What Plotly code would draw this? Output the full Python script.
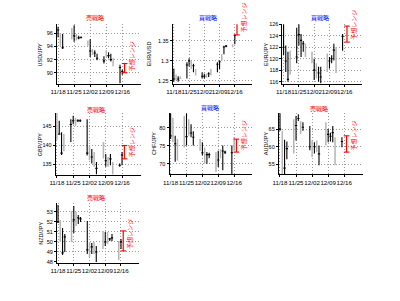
import plotly.graph_objects as go
import pandas as pd

W, H = 400, 301

# ---------------- data ----------------
dates = ["2008-11-18", "2008-11-19", "2008-11-20", "2008-11-21",
         "2008-11-24", "2008-11-25", "2008-11-26", "2008-11-27", "2008-11-28",
         "2008-12-01", "2008-12-02", "2008-12-03", "2008-12-04", "2008-12-05",
         "2008-12-08", "2008-12-09", "2008-12-10", "2008-12-11", "2008-12-12",
         "2008-12-15", "2008-12-16"]
forecast_date = "2008-12-17"
forecast_label_date = "2008-12-20 00:00"
tick_dates = ["2008-11-18", "2008-11-25", "2008-12-02", "2008-12-09", "2008-12-16"]
tick_labels = ["11/18", "11/25", "12/02", "12/09", "12/16"]
forecast_text = "予想レンジ"

usdjpy_high = [97.0, 96.0, 95.9, None, 96.8, 97.2, 95.9, 95.6, 95.5, 94.9, 95.1, 93.6, 93.4, 92.9, 92.5, 93.4, 93.1, 92.9, 92.2, 91.2, 90.5]
usdjpy_low = [95.4, 94.1, 93.6, None, 95.1, 94.7, 94.9, 95.1, 95.2, 94.1, 92.4, 92.7, 92.4, 91.9, 91.4, 92.4, 92.2, 91.7, 91.0, 88.4, 89.7]
usdjpy_close = [96.5, 95.0, 93.8, None, 96.4, 95.6, 95.3, 95.3, 95.4, 94.5, 93.3, 93.0, 93.0, 92.2, 91.8, 92.8, 92.6, 92.0, 91.3, 90.8, 90.2]
usdjpy_shade = ["k", "g", "k", "g", "g", "k", "g", "k", "k", "g", "k", "g", "k", "k", "k", "g", "k", "k", "g", "k", "k"]
usdjpy_range = [90.0, 91.4]
usdjpy_ticks = [90, 92, 94, 96]

eurusd_high = [1.281, 1.266, 1.262, 1.262, 1.297, 1.307, 1.301, 1.293, 1.280, 1.272, 1.268, 1.268, 1.272, 1.280, 1.297, 1.301, 1.317, 1.338, 1.340, 1.342, 1.366]
eurusd_low = [1.248, 1.252, 1.248, 1.255, 1.256, 1.286, 1.280, 1.272, 1.264, 1.256, 1.256, 1.258, 1.260, 1.264, 1.272, 1.280, 1.301, 1.317, 1.334, 1.334, 1.342]
eurusd_close = [1.255, 1.260, 1.255, 1.258, 1.290, 1.300, 1.295, 1.288, 1.270, 1.262, 1.262, 1.265, 1.268, 1.276, 1.292, 1.298, 1.312, 1.335, 1.337, 1.338, 1.364]
eurusd_shade = ["k", "g", "k", "g", "k", "k", "g", "k", "g", "k", "k", "g", "k", "g", "k", "k", "g", "k", "k", "g", "k"]
eurusd_range = [1.365, 1.395]
eurusd_ticks = [1.25, 1.3, 1.35]

eurjpy_high = [126.0, 122.3, 121.2, 121.4, 125.4, 126.0, 124.3, 123.1, 122.6, 121.2, 120.0, 119.2, 118.6, 118.6, 120.9, 120.3, 120.6, 122.6, 122.0, 124.3, None]
eurjpy_low = [120.6, 117.7, 116.0, 117.2, 119.2, 122.3, 120.3, 121.2, 120.3, 119.2, 116.3, 116.6, 116.0, 115.7, 117.7, 118.3, 119.2, 119.7, 117.5, 121.4, None]
eurjpy_close = [122.0, 119.6, 116.4, 119.0, 120.3, 124.2, 123.2, 122.6, 121.0, 120.5, 118.0, 117.7, 117.5, 116.8, 119.5, 119.6, 120.0, 121.5, 121.9, 123.9, None]
eurjpy_shade = ["k", "k", "k", "g", "k", "k", "k", "k", "g", "g", "k", "g", "k", "k", "g", "k", "k", "k", "g", "k", "k"]
eurjpy_range = [122.9, 125.7]
eurjpy_ticks = [116, 118, 120, 122, 124, 126]

gbpjpy_high = [148.5, 146.5, 143.5, 143.0, 146.9, 147.8, 147.3, 146.9, 146.9, 146.9, 139.8, 139.1, 138.3, 135.7, 140.9, 137.8, 137.0, 137.8, 135.7, 135.3, 138.3]
gbpjpy_low = [141.5, 142.8, 137.5, 138.5, 140.9, 145.6, 145.2, 146.2, 146.2, 137.4, 136.1, 135.3, 134.4, 132.4, 136.6, 134.4, 134.4, 134.8, 132.4, 134.4, 134.8]
gbpjpy_close = [143.5, 143.0, 138.0, 141.5, 145.5, 146.5, 146.0, 146.5, 146.5, 138.0, 138.0, 137.0, 135.5, 134.0, 138.5, 136.0, 135.5, 136.5, 134.5, 134.8, 137.5]
gbpjpy_shade = ["g", "k", "k", "g", "k", "k", "g", "k", "k", "k", "g", "k", "g", "k", "g", "k", "g", "k", "g", "k", "k"]
gbpjpy_range = [136.5, 140.0]
gbpjpy_ticks = [135, 140, 145]

chfjpy_high = [84.0, 82.7, 77.7, 76.8, 83.2, 84.0, 82.3, 80.9, 79.0, 76.8, 75.9, 74.5, 73.2, 73.0, 73.2, 73.6, 74.0, 75.0, 73.6, 75.0, 77.3]
chfjpy_low = [76.8, 75.9, 70.5, 70.9, 74.5, 75.0, 77.7, 77.3, 75.0, 73.6, 72.3, 70.0, 70.0, 71.5, 67.7, 69.1, 71.5, 68.2, 72.7, 67.1, 73.6]
chfjpy_close = [77.7, 78.0, 75.5, 76.0, 81.0, 77.5, 80.0, 78.5, 77.3, 75.0, 73.0, 73.0, 72.5, 72.5, 72.0, 71.0, 72.8, 73.5, 73.2, 73.0, 75.0]
chfjpy_shade = ["k", "g", "k", "g", "g", "k", "g", "k", "k", "g", "k", "g", "k", "k", "g", "k", "g", "k", "k", "k", "g"]
chfjpy_range = [73.2, 76.8]
chfjpy_ticks = [70, 75, 80]

audjpy_high = [69.6, 64.5, 62.0, 61.5, 67.8, 68.7, 69.2, 67.3, 66.9, 65.9, 61.8, 61.3, 61.8, 60.4, 66.9, 65.0, 64.0, 65.9, 62.7, 62.7, None]
audjpy_low = [64.5, 52.3, 52.3, 56.5, 58.1, 61.8, 67.3, 63.6, 64.5, 59.0, 57.1, 58.1, 58.5, 54.8, 60.4, 61.3, 61.5, 61.3, 54.8, 59.9, None]
audjpy_close = [65.0, 60.0, 54.0, 59.5, 63.0, 66.0, 68.0, 65.0, 65.5, 60.0, 59.0, 60.0, 60.5, 58.0, 64.0, 63.5, 63.0, 64.0, 61.0, 61.5, None]
audjpy_shade = ["k", "g", "k", "k", "g", "k", "k", "g", "k", "k", "g", "k", "g", "k", "g", "k", "k", "k", "g", "k", "k"]
audjpy_range = [58.5, 63.1]
audjpy_ticks = [55, 60, 65]

nzdjpy_high = [53.7, 52.2, 51.4, 50.8, 53.1, 53.6, 53.0, 52.7, 52.5, 52.1, 50.0, 49.9, 50.0, 49.6, 51.1, 51.0, 51.0, 50.4, 50.8, 50.1, 50.3]
nzdjpy_low = [51.9, 50.0, 48.7, 49.0, 50.0, 50.9, 51.6, 51.8, 52.0, 48.8, 48.5, 48.8, 48.8, 48.0, 49.3, 49.6, 49.8, 50.1, 50.1, 48.2, 49.3]
nzdjpy_close = [52.0, 51.8, 48.9, 50.5, 52.5, 52.2, 52.5, 52.4, 52.3, 49.2, 49.5, 49.5, 49.3, 49.0, 50.5, 50.0, 50.5, 50.3, 50.4, 49.5, 50.0]
nzdjpy_shade = ["k", "g", "k", "k", "g", "k", "g", "k", "k", "k", "g", "k", "g", "k", "g", "k", "g", "k", "k", "g", "k"]
nzdjpy_range = [49.1, 51.1]
nzdjpy_ticks = [48, 49, 50, 51, 52, 53]

pairs = ["USD/JPY", "EUR/USD", "EUR/JPY", "GBP/JPY", "CHF/JPY", "AUD/JPY", "NZD/JPY"]
strategies = ["売戦略", "買戦略", "買戦略", "売戦略", "買戦略", "売戦略", "売戦略"]

series = [
    (usdjpy_high, usdjpy_low, usdjpy_close, usdjpy_shade, usdjpy_range, usdjpy_ticks),
    (eurusd_high, eurusd_low, eurusd_close, eurusd_shade, eurusd_range, eurusd_ticks),
    (eurjpy_high, eurjpy_low, eurjpy_close, eurjpy_shade, eurjpy_range, eurjpy_ticks),
    (gbpjpy_high, gbpjpy_low, gbpjpy_close, gbpjpy_shade, gbpjpy_range, gbpjpy_ticks),
    (chfjpy_high, chfjpy_low, chfjpy_close, chfjpy_shade, chfjpy_range, chfjpy_ticks),
    (audjpy_high, audjpy_low, audjpy_close, audjpy_shade, audjpy_range, audjpy_ticks),
    (nzdjpy_high, nzdjpy_low, nzdjpy_close, nzdjpy_shade, nzdjpy_range, nzdjpy_ticks),
]

# ---------------- layout (pixels) ----------------
boxes = [
    (51.7, 136.7, 21.7, 82.0),
    (169.3, 250.0, 21.7, 82.0),
    (280.7, 361.7, 21.7, 82.0),
    (50.5, 136.7, 112.0, 174.5),
    (166.0, 250.0, 112.0, 174.0),
    (277.0, 362.0, 112.0, 174.0),
    (51.7, 135.0, 203.3, 264.0),
]
y_ranges = [
    (88.35, 97.35), (1.2434, 1.3915), (115.65, 126.0),
    (132.36, 148.5), (67.1, 84.0), (52.3, 69.5), (47.93, 53.9),
]
title_xy = [(90.6, 15.0), (205.0, 15.0), (319.0, 15.0),
            (91.7, 108.0), (206.7, 106.7), (317.5, 107.7), (91.7, 197.3)]
ylabel_x = [35.0, 145.5, 264.0, 34.0, 149.5, 263.5, 35.5]
x_range = ["2008-11-17 12:00", "2008-12-24 00:00"]

strat_color = {"売戦略": "#ff0000", "買戦略": "#0000ff"}
shade_color = {"k": "#000000", "g": "#b4b4b4"}
shade_width = {"k": 1.1, "g": 1.5}

FONT = "Liberation Sans, Arial, sans-serif"
JFONT = "Noto Sans CJK JP"
GRID = "#9a9a9a"

fig = go.Figure()
annotations = []
layout_axes = {}

for i, (pair, strat, (hi, lo, cl, sh, frng, yt)) in enumerate(zip(pairs, strategies, series)):
    k = i + 1
    xa = "x" if k == 1 else f"x{k}"
    ya = "y" if k == 1 else f"y{k}"
    xkey = "xaxis" if k == 1 else f"xaxis{k}"
    ykey = "yaxis" if k == 1 else f"yaxis{k}"

    df = pd.DataFrame({"date": pd.to_datetime(dates), "high": hi, "low": lo,
                       "close": cl, "shade": sh}).dropna()
    for s in ["g", "k"]:
        d = df[df["shade"] == s]
        if d.empty:
            continue
        gaps = d["date"].diff().dt.days.dropna()
        mingap = gaps.min() if len(gaps) else 1
        tw = min(0.5, 0.5 / mingap)
        fig.add_trace(go.Ohlc(
            x=d["date"], open=d["close"], high=d["high"], low=d["low"], close=d["close"],
            increasing=dict(line=dict(color=shade_color[s], width=shade_width[s])),
            decreasing=dict(line=dict(color=shade_color[s], width=shade_width[s])),
            tickwidth=tw, xaxis=xa, yaxis=ya, showlegend=False, hoverinfo="skip",
        ))

    fig.add_trace(go.Scatter(
        x=[forecast_date, forecast_date], y=frng, mode="lines+markers",
        line=dict(color="#ff0000", width=1.2),
        marker=dict(symbol="line-ew", size=4, line=dict(color="#ff0000", width=1.1)),
        xaxis=xa, yaxis=ya, showlegend=False, hoverinfo="skip", cliponaxis=False,
    ))

    L, R, T, B = boxes[i]
    layout_axes[xkey] = dict(
        domain=[L / W, R / W], anchor=ya, type="date", range=x_range,
        tickmode="array", tickvals=tick_dates, ticktext=tick_labels, tickangle=0,
        showgrid=True, gridcolor=GRID, griddash="1px,2px", gridwidth=1,
        showline=True, linecolor="#000000", linewidth=1,
        ticks="outside", ticklen=2, tickcolor="#000000",
        tickfont=dict(size=6.2, color="#000000", family=FONT),
        rangeslider=dict(visible=False), zeroline=False, fixedrange=True,
    )
    layout_axes[ykey] = dict(
        domain=[1 - B / H, 1 - T / H], anchor=xa, range=list(y_ranges[i]),
        tickmode="array", tickvals=yt,
        showgrid=True, gridcolor=GRID, griddash="1px,2px", gridwidth=1,
        showline=True, linecolor="#000000", linewidth=1,
        ticks="outside", ticklen=2, tickcolor="#000000",
        tickfont=dict(size=5.5, color="#000000", family=FONT),
        zeroline=False, fixedrange=True,
    )

    tx, ty = title_xy[i]
    annotations.append(dict(
        text=strat, x=tx / W, y=1 - ty / H, xref="paper", yref="paper",
        xanchor="center", yanchor="middle", showarrow=False,
        font=dict(size=6, color=strat_color[strat], family=JFONT)))
    annotations.append(dict(
        text=pair, x=ylabel_x[i] / W, y=1 - (T + B) / 2 / H, xref="paper", yref="paper",
        xanchor="center", yanchor="middle", showarrow=False, textangle=-90,
        font=dict(size=5.5, color="#000000", family=FONT)))
    annotations.append(dict(
        text=forecast_text, x=forecast_label_date, y=frng[0], xref=xa, yref=ya,
        xanchor="center", yanchor="bottom", showarrow=False, textangle=-90,
        font=dict(size=6, color="#ff0000", family=JFONT)))

fig.update_layout(
    width=W, height=H, margin=dict(l=0, r=0, t=0, b=0),
    paper_bgcolor="#ffffff", plot_bgcolor="#ffffff",
    annotations=annotations, showlegend=False, **layout_axes,
)

fig.write_html("out.html")
